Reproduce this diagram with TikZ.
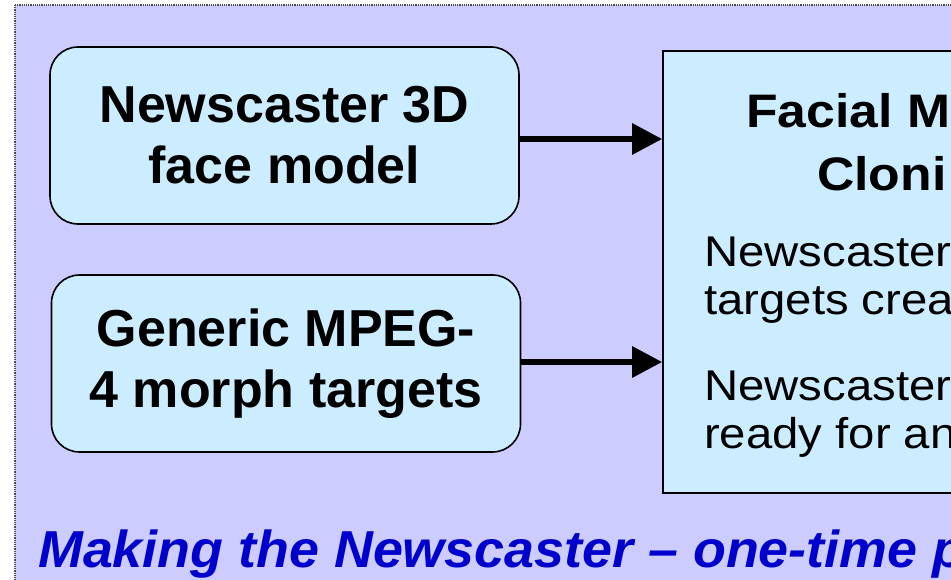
\documentclass[tikz,border=0pt]{standalone}
\usepackage{fontspec}
\setmainfont{Liberation Sans}
\usetikzlibrary{arrows.meta}
\definecolor{bgviolet}{HTML}{CCCCFF}
\definecolor{boxblue}{HTML}{CCECFF}
\definecolor{captionblue}{HTML}{0000CC}
\tikzset{
  srcbox/.style={draw=black, line width=1.6pt, fill=boxblue, rounded corners=28pt,
    minimum width=469pt, minimum height=177pt, align=center, inner sep=0pt,
    font=\fontsize{52}{61}\selectfont\bfseries},
  bigbox/.style={draw=black, line width=1.6pt, fill=boxblue, inner sep=0pt},
  titletext/.style={anchor=base west, inner sep=0pt, font=\fontsize{47}{59}\selectfont\bfseries},
  bodytext/.style={anchor=base west, inner sep=0pt, font=\fontsize{43}{48}\selectfont},
  captiontext/.style={anchor=base west, inner sep=0pt, text=captionblue,
    font=\fontsize{52}{60}\selectfont\bfseries\itshape},
  flowarrow/.style={line width=6pt, -{Triangle[length=30pt,width=30pt]}}
}
\newcommand{\wide}[1]{\scalebox{1.1}[1]{#1}}
\begin{document}
\begin{tikzpicture}[x=1pt,y=-1pt]
\useasboundingbox (0,0) rectangle (951,580);
\clip (0,0) rectangle (951,580);
\fill[white] (0,0) rectangle (951,580);
\draw[fill=bgviolet, draw=black!70, line width=1.2pt, densely dotted] (15,5) rectangle (1000,620);
\node[srcbox] (b1) at (284.5,135.5) {Newscaster 3D\\face model};
\node[srcbox] (b2) at (286,363.5) {Generic MPEG-\\4 morph targets};
\node[bigbox, minimum width=400pt, minimum height=442pt] (fmc) at (863,272) {};
\node[titletext] (t1) at (746,128) {\wide{Facial M}};
\node[titletext] (t2) at (817,191) {\wide{Cloni}};
\node[bodytext] (p1) at (704,267) {\wide{Newscaster}};
\node[bodytext] (p2) at (704,315) {\wide{targets crea}};
\node[bodytext] (p3) at (704,400) {\wide{Newscaster}};
\node[bodytext] (p4) at (704,448) {\wide{ready for an}};
\node[captiontext] (cap) at (38,567) {\scalebox{1.035}[1]{Making the Newscaster -- one-time p}};
\coordinate (a1) at ([yshift=-3.5pt]b1.east);
\coordinate (a2) at ([yshift=1.5pt]b2.east);
\draw[flowarrow] (a1) -- (a1 -| fmc.west);
\draw[flowarrow] (a2) -- (a2 -| fmc.west);
\end{tikzpicture}
\end{document}
